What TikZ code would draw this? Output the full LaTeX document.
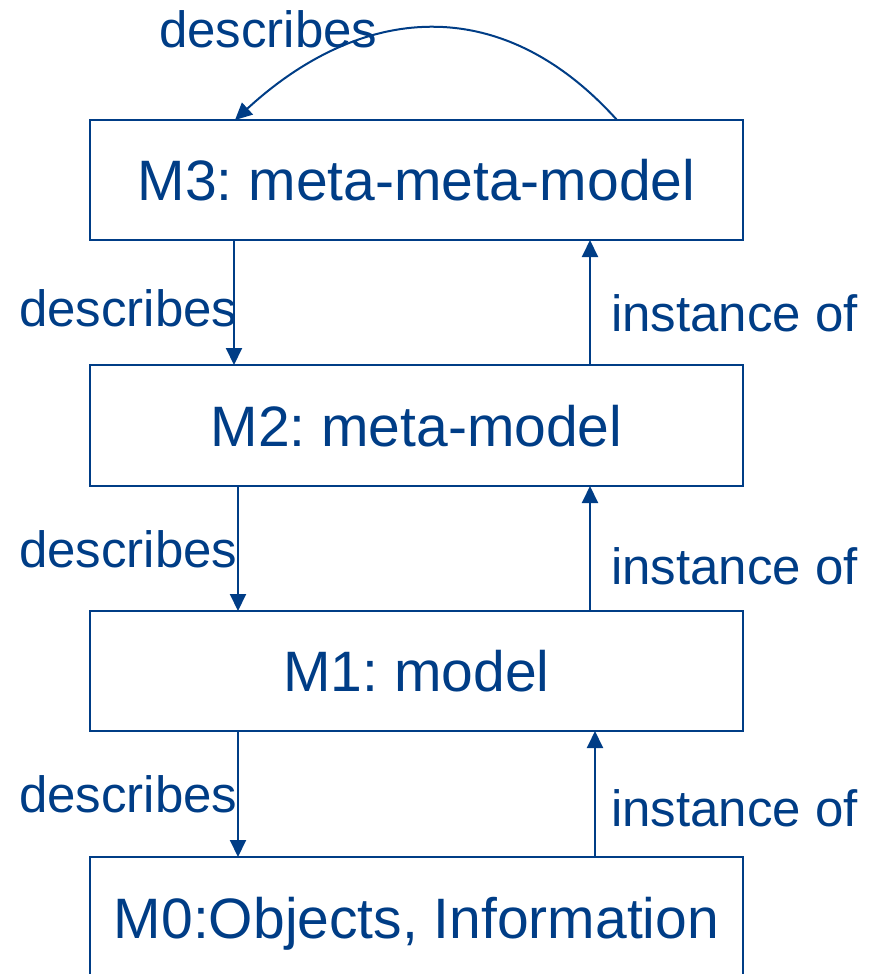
\documentclass[tikz,border=0pt]{standalone}
\usepackage{fontspec}
\setmainfont{Liberation Sans}
\usetikzlibrary{arrows.meta}
\definecolor{mblue}{RGB}{0,61,134}
\frenchspacing
\begin{document}
\begin{tikzpicture}[x=1pt,y=-1pt,
  layer/.style={draw=mblue,line width=2pt,minimum width=653pt,minimum height=120pt,
    inner sep=0pt,outer sep=0pt,text=mblue,font=\fontsize{57}{68}\selectfont,
    text height=41pt,text depth=0pt,anchor=north west},
  lbl/.style={text=mblue,font=\fontsize{51}{61}\selectfont,inner sep=0pt,anchor=base west},
  conn/.style={draw=mblue,line width=2pt,-{Triangle[length=17pt,width=16pt]}}]
\useasboundingbox (0,0) rectangle (870,974);
\clip (0,0) rectangle (870,974);
% layers
\node[layer] (m3) at (90,120) {M3: meta-meta-model};
\node[layer,minimum height=121pt] (m2) at (90,365) {M2: meta-model};
\node[layer] (m1) at (90,611) {M1: model};
\node[layer,minimum height=122pt] (m0) at (90,857) {M0:Objects, Information};
% labels
\node[lbl] (dtop) at (159,48) {describes};
\node[lbl] (d32) at (19,326) {describes};
\node[lbl] (d21) at (19,567) {describes};
\node[lbl] (d10) at (19,812) {describes};
\node[lbl] (i23) at (611,331) {instance of};
\node[lbl] (i12) at (611,584) {instance of};
\node[lbl] (i01) at (611,826) {instance of};
% describes arrows
\draw[conn] ([xshift=144pt]m3.south west) -- ([xshift=144pt]m2.north west);
\draw[conn] ([xshift=148pt]m2.south west) -- ([xshift=148pt]m1.north west);
\draw[conn] ([xshift=148pt]m1.south west) -- ([xshift=148pt]m0.north west);
% instance-of arrows
\draw[conn] ([xshift=500pt]m2.north west) -- ([xshift=500pt]m3.south west);
\draw[conn] ([xshift=500pt]m1.north west) -- ([xshift=500pt]m2.south west);
\draw[conn] ([xshift=505pt]m0.north west) -- ([xshift=505pt]m1.south west);
% self-describing arc
\draw[conn] ([xshift=527pt]m3.north west) .. controls (500,-10) and (360,5) .. ([xshift=145pt]m3.north west);
\end{tikzpicture}
\end{document}
